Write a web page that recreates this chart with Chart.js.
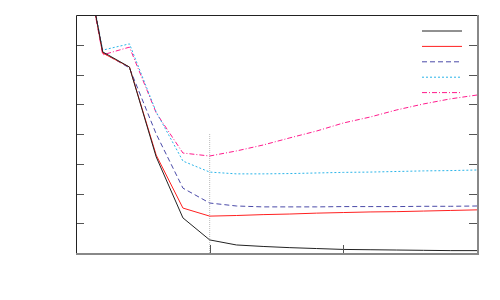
<!DOCTYPE html>
<html>
<head>
<meta charset="utf-8">
<script src="https://cdn.jsdelivr.net/npm/chart.js@4"></script>
<style>
  html, body { margin: 0; padding: 0; background: #fff; }
  #wrap { width: 500px; height: 300px; }
</style>
</head>
<body>
<div id="wrap"><canvas id="myChart" width="500" height="300"></canvas></div>
<script>
// x positions of the samples
const steps = [0, 1, 2, 3, 4, 5, 6, 7, 8, 9, 10, 11, 12, 13, 14, 15]

// series values
const series_black = [11.5, 6.76, 6.25, 3.23, 1.18, 0.44, 0.27, 0.22, 0.18, 0.15, 0.12, 0.11, 0.10, 0.09, 0.08, 0.08]
const series_red   = [11.5, 6.72, 6.25, 3.29, 1.51, 1.24, 1.26, 1.29, 1.31, 1.34, 1.36, 1.38, 1.39, 1.41, 1.43, 1.45]
const series_blue  = [11.5, 6.74, 6.22, 4.00, 2.18, 1.68, 1.58, 1.55, 1.55, 1.55, 1.56, 1.56, 1.56, 1.57, 1.57, 1.58]
const series_cyan  = [11.5, 6.82, 7.03, 4.74, 3.09, 2.72, 2.66, 2.66, 2.67, 2.69, 2.71, 2.72, 2.74, 2.76, 2.77, 2.79]
const series_pink  = [11.5, 6.66, 6.92, 4.71, 3.36, 3.26, 3.43, 3.63, 3.87, 4.10, 4.37, 4.57, 4.81, 5.01, 5.18, 5.31]

// dotted marker line
const marker_x = [5, 5]
const marker_y = [0, 4]

// tick values
const x_ticks = [5, 10]
const y_ticks = [1, 2, 3, 4, 5, 6, 7]

function to_points(xs, ys){
    return xs.map((x, i) => ({x: x, y: ys[i]}))
}

function line_set(label, values, color, dash){
    return {
        label: label,
        data: to_points(steps, values),
        borderColor: color,
        borderWidth: 1,
        borderDash: dash,
        pointRadius: 0,
        fill: false,
        tension: 0
    }
}

// inner ticks, frame and the key in the top right corner
const framePlugin = {
    id: 'frame',
    afterDatasetsDraw(chart){
        const c = chart.ctx
        const a = chart.chartArea
        const xs = chart.scales.x
        const ys = chart.scales.y
        c.save()
        c.lineWidth = 1
        c.strokeStyle = '#555'
        y_ticks.forEach(v => {
            const py = Math.round(ys.getPixelForValue(v)) + 0.5
            c.beginPath(); c.moveTo(a.left, py); c.lineTo(a.left + 8, py); c.stroke()
            c.beginPath(); c.moveTo(a.right, py); c.lineTo(a.right - 8, py); c.stroke()
        })
        x_ticks.forEach(v => {
            const px = Math.round(xs.getPixelForValue(v)) + 0.5
            c.beginPath(); c.moveTo(px, a.bottom); c.lineTo(px, a.bottom - 8); c.stroke()
        })
        // frame
        c.strokeStyle = '#222'
        c.beginPath(); c.moveTo(a.left + 0.5, a.bottom); c.lineTo(a.left + 0.5, a.top + 0.5); c.lineTo(a.right, a.top + 0.5); c.stroke()
        c.strokeStyle = '#888'
        c.lineWidth = 2
        c.beginPath(); c.moveTo(a.left, a.bottom + 1); c.lineTo(a.right + 1, a.bottom + 1); c.lineTo(a.right + 1, a.top); c.stroke()

        // key samples
        c.lineWidth = 1
        chart.data.datasets.slice(0, 5).forEach((ds, i) => {
            const py = a.top + 16 + i * 15.4
            c.strokeStyle = ds.borderColor
            c.setLineDash(ds.borderDash || [])
            c.beginPath(); c.moveTo(a.right - 55, py); c.lineTo(a.right - 15, py); c.stroke()
        })
        c.restore()
    }
}

const ctx = document.getElementById('myChart').getContext('2d')
const myChart = new Chart(ctx, {
    type: 'line',
    data: {
        datasets: [
            line_set('black', series_black, '#222222', []),
            line_set('red', series_red, '#ff2020', []),
            line_set('blue', series_blue, '#4a4aa8', [5, 3]),
            line_set('cyan', series_cyan, '#2ab4e8', [2, 2]),
            line_set('pink', series_pink, '#ff1a8c', [5, 2, 1, 2]),
            {
                label: 'marker',
                data: to_points(marker_x, marker_y),
                borderColor: '#bbbbbb',
                borderWidth: 1,
                borderDash: [1, 1],
                pointRadius: 0
            }
        ]
    },
    options: {
        responsive: false,
        animation: false,
        layout: { padding: { left: 76, right: 23, top: 15, bottom: 47 } },
        plugins: { legend: { display: false }, tooltip: { enabled: false } },
        scales: {
            x: {
                type: 'linear',
                min: 0,
                max: 15,
                display: true,
                grid: { display: false, drawTicks: false },
                border: { display: false },
                ticks: { display: false }
            },
            y: {
                min: 0,
                max: 8,
                display: true,
                grid: { display: false, drawTicks: false },
                border: { display: false },
                ticks: { display: false }
            }
        }
    },
    plugins: [framePlugin]
})
</script>
</body>
</html>
